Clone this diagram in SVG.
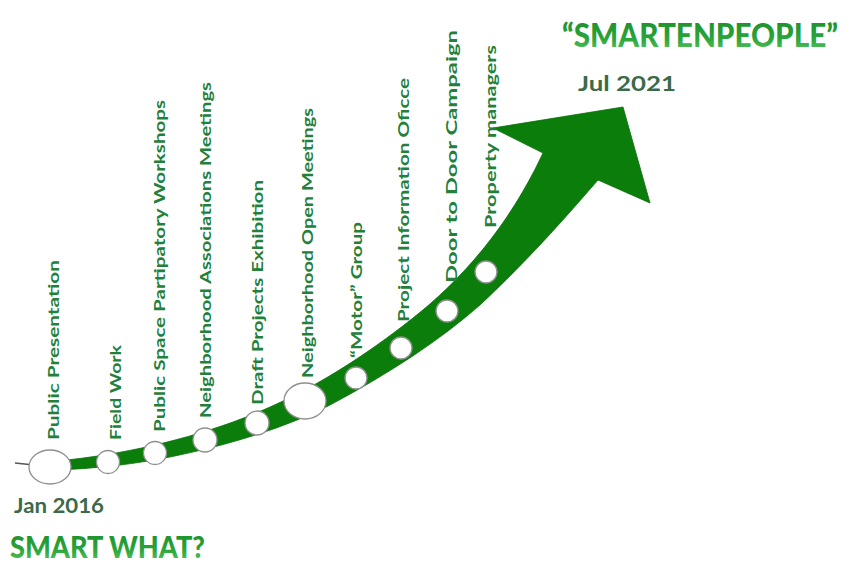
<svg xmlns="http://www.w3.org/2000/svg" width="859" height="571" viewBox="0 0 859 571">
<defs>
<linearGradient id="titleGrad" x1="0" y1="0" x2="0" y2="1">
<stop offset="0" stop-color="#1a8a2a"/>
<stop offset="0.6" stop-color="#2aa53a"/>
<stop offset="1" stop-color="#5cc866"/>
</linearGradient>
<style>
.lbl{font-family:Lato,"Liberation Sans",sans-serif;font-weight:bold;font-size:16px;fill:#23803a;}
.date{font-family:Lato,"Liberation Sans",sans-serif;font-weight:bold;font-size:21px;fill:#3a6a4a;}
.title{font-family:Lato,"Liberation Sans",sans-serif;font-weight:900;fill:url(#titleGrad);}
.dot{fill:#ffffff;stroke:#8f8f8f;stroke-width:1.3;}
.arrow{fill:#0a7d0a;stroke:#0a6f0a;stroke-width:0.8;}
</style>
</defs>
<rect width="859" height="571" fill="#ffffff"/>

<g id="connectors">
<line x1="15" y1="463" x2="34" y2="465" stroke="#555" stroke-width="1.5"/>
<path class="arrow" d="M45,462 C110,457 175,443 233,422 C300,398 360,360 413,318 C460,281 508,228 543,153 L493,128 L623,107 L650,203 L598,180 C565,218 530,258 480,305 C440,340 390,373 330,405 C270,436 180,458 120,465 C95,468 70,470 45,470 Z"/>
</g>

<g id="node-public-presentation">
<ellipse class="dot" cx="50" cy="467" rx="21" ry="17"/>
<text class="lbl" transform="translate(59,440) rotate(-90)" textLength="180" lengthAdjust="spacingAndGlyphs">Public Presentation</text>
</g>
<g id="node-field-work">
<circle class="dot" cx="108" cy="462" r="11.5"/>
<text class="lbl" transform="translate(121,440) rotate(-90)" textLength="95" lengthAdjust="spacingAndGlyphs">Field Work</text>
</g>
<g id="node-workshops">
<circle class="dot" cx="155" cy="453" r="11.5"/>
<text class="lbl" transform="translate(165,432) rotate(-90)" textLength="332" lengthAdjust="spacingAndGlyphs">Public Space Partipatory Workshops</text>
</g>
<g id="node-associations">
<circle class="dot" cx="205" cy="440" r="12"/>
<text class="lbl" transform="translate(211,418) rotate(-90)" textLength="336" lengthAdjust="spacingAndGlyphs">Neighborhood Associations Meetings</text>
</g>
<g id="node-exhibition">
<circle class="dot" cx="257" cy="423" r="12"/>
<text class="lbl" transform="translate(263,405) rotate(-90)" textLength="225" lengthAdjust="spacingAndGlyphs">Draft Projects Exhibition</text>
</g>
<g id="node-open-meetings">
<ellipse class="dot" cx="305" cy="401" rx="21" ry="18"/>
<text class="lbl" transform="translate(313,378) rotate(-90)" textLength="270" lengthAdjust="spacingAndGlyphs">Neighborhood Open Meetings</text>
</g>
<g id="node-motor">
<circle class="dot" cx="356" cy="378" r="11"/>
<text class="lbl" transform="translate(362,358) rotate(-90)" textLength="136" lengthAdjust="spacingAndGlyphs">“Motor” Group</text>
</g>
<g id="node-info-office">
<circle class="dot" cx="401" cy="348" r="11"/>
<text class="lbl" transform="translate(409,322) rotate(-90)" textLength="244" lengthAdjust="spacingAndGlyphs">Project Information Oficce</text>
</g>
<g id="node-door-to-door">
<circle class="dot" cx="447" cy="311" r="11"/>
<text class="lbl" transform="translate(457,283) rotate(-90)" textLength="253" lengthAdjust="spacingAndGlyphs">Door to Door Campaign</text>
</g>
<g id="node-property">
<circle class="dot" cx="486" cy="272" r="11"/>
<text class="lbl" transform="translate(496,228) rotate(-90)" textLength="183" lengthAdjust="spacingAndGlyphs">Property managers</text>
</g>

<g id="start">
<text class="date" x="14" y="513" textLength="90" lengthAdjust="spacingAndGlyphs">Jan 2016</text>
<text class="title" x="10" y="558" font-size="30" textLength="195" lengthAdjust="spacingAndGlyphs">SMART WHAT?</text>
</g>
<g id="end">
<text class="title" x="562" y="47" font-size="32" textLength="276" lengthAdjust="spacingAndGlyphs">“SMARTENPEOPLE”</text>
<text class="date" x="578" y="91" textLength="98" lengthAdjust="spacingAndGlyphs">Jul 2021</text>
</g>
</svg>
